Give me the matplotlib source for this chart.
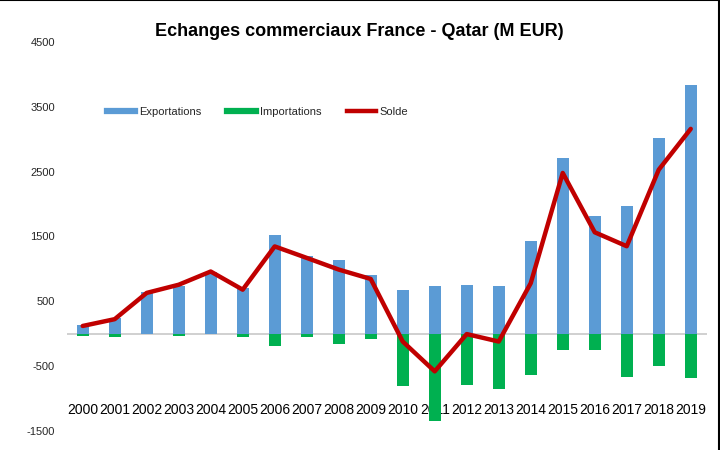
import numpy as np
import matplotlib
matplotlib.use("Agg")
import matplotlib.pyplot as plt
from matplotlib.lines import Line2D

# data (M EUR)
annees = [str(a) for a in range(2000, 2020)]
exportations = [140, 250, 640, 740, 960, 700, 1520, 1200, 1140, 900,
                680, 740, 756, 730, 1435, 2710, 1810, 1975, 3020, 3830]
importations = [-40, -50, -10, -40, -10, -50, -185, -45, -160, -80,
                -800, -1340, -785, -850, -640, -247, -247, -670, -500, -685]
solde = [120, 225, 630, 756, 960, 680, 1347, 1170, 990, 845,
         -120, -580, -5, -120, 780, 2480, 1565, 1350, 2530, 3160]
yticks = [-1500, -500, 500, 1500, 2500, 3500, 4500]

plt.rcParams['font.family'] = ['Liberation Sans', 'DejaVu Sans']

bleu = "#5B9BD5"
vert = "#00B050"
rouge = "#C00000"
gris = "#262626"

fig = plt.figure(figsize=(7.2, 4.5), dpi=100)
ax = fig.add_axes([0.0926, 0.0422, 0.889, 0.8645])

x = np.arange(len(annees))
ax.bar(x, exportations, width=0.38, color=bleu, zorder=2)
ax.bar(x, importations, width=0.38, color=vert, zorder=2)
ax.axhline(0, color="#c8c8c8", lw=1.2, zorder=1)
ax.plot(x, solde, color=rouge, lw=3.2, solid_capstyle="round", zorder=3)

ax.set_xlim(-0.5, len(annees) - 0.5)
ax.set_ylim(-1500, 4500)
ax.set_yticks(yticks)
ax.set_yticklabels([str(v) for v in yticks], fontsize=8, color=gris)
ax.set_xticks(x)
ax.set_xticklabels(annees, fontsize=7.8, color=gris)
# year labels sit inside the plot, not at the bottom
ax.spines['bottom'].set_position(('data', -1000))
for s in ax.spines.values():
    s.set_visible(False)
ax.tick_params(axis='x', length=0, pad=3)
ax.tick_params(axis='y', length=0, pad=8.5)

handles = [Line2D([], [], color=bleu, lw=4.5),
           Line2D([], [], color=vert, lw=4.5),
           Line2D([], [], color=rouge, lw=3.2)]
ax.legend(handles, ["Exportations", "Importations", "Solde"], ncol=3,
          loc="center", bbox_to_anchor=(0.298, 0.82), frameon=False,
          fontsize=8, handlelength=2.6, handletextpad=0.35, columnspacing=2.3,
          labelcolor=gris)

fig.text(0.499, 0.929, "Echanges commerciaux France - Qatar (M EUR)",
         ha="center", va="center", fontsize=13, fontweight="bold", color="black")

# thin frame on top and right like the source image
fig.add_artist(Line2D([0, 0.998], [0.999, 0.999], color="black", lw=1.5,
                      transform=fig.transFigure))
fig.add_artist(Line2D([0.998, 0.998], [0, 0.999], color="black", lw=1.5,
                      transform=fig.transFigure))

fig.savefig("out.png", dpi=100)
